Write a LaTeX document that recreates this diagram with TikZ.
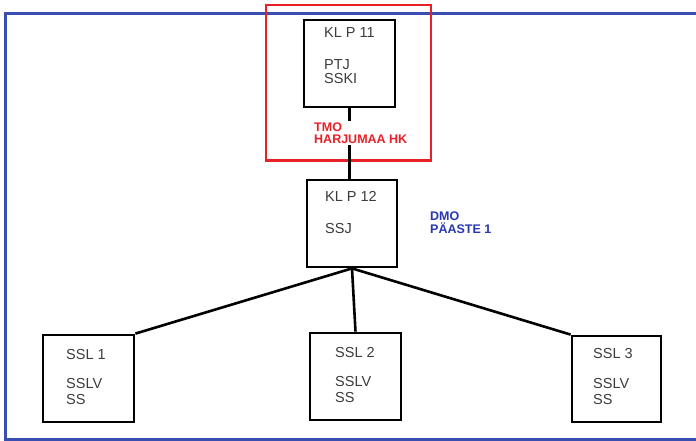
\documentclass[tikz,border=0pt]{standalone}
\usepackage{fontspec}
\setmainfont{Liberation Sans}
\definecolor{frameblue}{RGB}{58,78,178}
\definecolor{lblred}{RGB}{232,32,40}
\definecolor{lblblue}{RGB}{40,56,176}
\definecolor{txtgray}{RGB}{60,60,60}
\begin{document}
\begin{tikzpicture}[x=1pt,y=-1pt,
  boxst/.style={draw=black,line width=2.8pt,fill=white,inner sep=0pt},
  txt/.style={anchor=base west,inner sep=0pt,text=txtgray,font=\fontsize{14.5}{14.5}\selectfont},
  lbl/.style={anchor=base west,inner sep=1pt,fill=white,font=\bfseries\fontsize{12.5}{13}\selectfont,align=left},
  conn/.style={line width=2.6pt}]
\useasboundingbox (0,0) rectangle (696,441);
% outer blue frame (open on the right)
\draw[frameblue,line width=3pt] (696,14) -- (5,14) -- (5,439) -- (696,439);
% red highlight
\node[draw=lblred,line width=2pt,minimum width=165pt,minimum height=155pt,inner sep=0pt] (red) at (348.5,83) {};
% boxes
\node[boxst,minimum width=91pt,minimum height=87pt] (kl11) at (349.5,63.5) {};
\node[boxst,minimum width=90pt,minimum height=87pt] (kl12) at (352,223.5) {};
\node[boxst,minimum width=91pt,minimum height=87pt] (ssl1) at (88.5,378.5) {};
\node[boxst,minimum width=91pt,minimum height=87pt] (ssl2) at (355.5,376.5) {};
\node[boxst,minimum width=89pt,minimum height=86pt] (ssl3) at (616.5,379) {};
% connectors
\draw[conn] (kl11.south) -- (kl11.south |- kl12.north);
\draw[conn] (kl12.south) -- (ssl1.north east);
\draw[conn] (kl12.south) -- (ssl2.north);
\draw[conn] (kl12.south) -- (ssl3.north west);
% box texts
\node[txt] (t11a) at (324,38) {KL P 11};
\node[txt] (t11b) at (324,70) {PTJ};
\node[txt] (t11c) at (324,83.5) {SSKI};
\node[txt] (t12a) at (325,201) {KL P 12};
\node[txt] (t12b) at (325,233) {SSJ};
\node[txt] (s1a) at (66,359) {SSL 1};
\node[txt] (s1b) at (66,388) {SSLV};
\node[txt] (s1c) at (66,404.5) {SS};
\node[txt] (s2a) at (335,357) {SSL 2};
\node[txt] (s2b) at (335,386) {SSLV};
\node[txt] (s2c) at (335,402.5) {SS};
\node[txt] (s3a) at (593,358) {SSL 3};
\node[txt] (s3b) at (593,388) {SSLV};
\node[txt] (s3c) at (593,404.5) {SS};
% labels (base anchor sits on the last line)
\node[lbl,text=lblred] (tmo) at (313,144) {TMO\\HARJUMAA HK};
\node[lbl,text=lblblue] (dmo) at (429,233) {DMO\\PÄASTE 1};
\end{tikzpicture}
\end{document}
